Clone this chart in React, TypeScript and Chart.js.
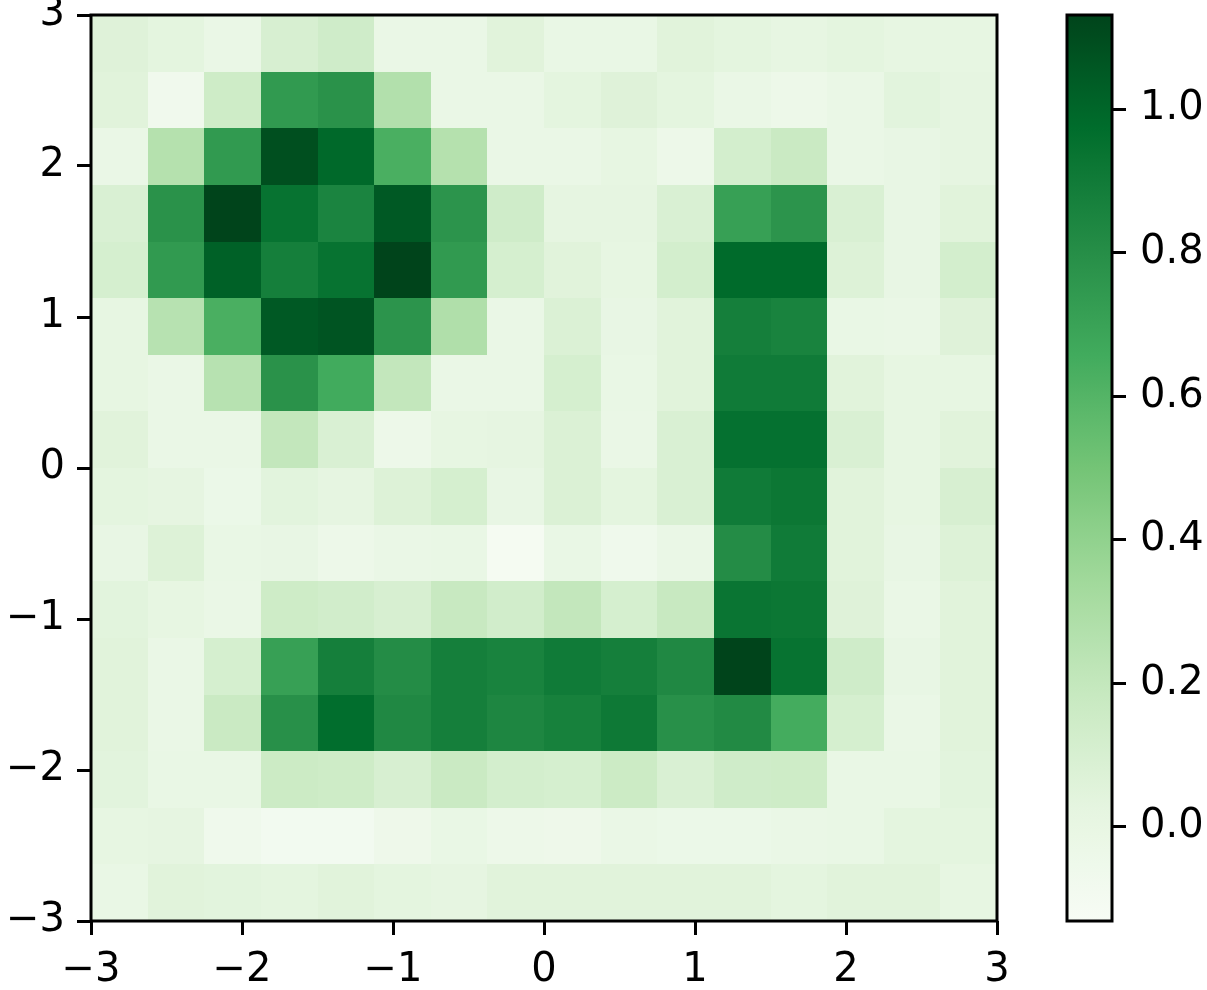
import React, { useEffect, useRef } from "react";
import { Chart, registerables } from "chart.js";

Chart.register(...registerables);

// Heatmap values, rows from top (y = 3) to bottom (y = -3), columns from x = -3 to x = 3
const row00 = [0.06, 0.03, -0.02, 0.10, 0.14, -0.02, -0.02, 0.05, -0.01, -0.01, 0.05, 0.03, 0.01, 0.03, 0.01, 0.01];
const row01 = [0.05, -0.07, 0.15, 0.74, 0.78, 0.27, -0.02, -0.02, 0.03, 0.06, 0.03, -0.02, -0.04, -0.02, 0.04, 0.02];
const row02 = [-0.02, 0.26, 0.74, 1.09, 0.99, 0.63, 0.26, -0.02, -0.02, 0.01, -0.04, 0.12, 0.17, -0.02, 0.0, 0.02];
const row03 = [0.09, 0.78, 1.13, 0.94, 0.85, 1.05, 0.77, 0.14, 0.02, 0.02, 0.09, 0.71, 0.77, 0.09, 0.0, 0.05];
const row04 = [0.11, 0.74, 1.02, 0.88, 0.94, 1.13, 0.74, 0.11, 0.05, 0.01, 0.12, 0.98, 0.98, 0.07, 0.0, 0.12];
const row05 = [0.01, 0.25, 0.63, 1.05, 1.07, 0.77, 0.28, -0.02, 0.08, 0.0, 0.05, 0.88, 0.86, -0.01, -0.02, 0.06];
const row06 = [0.01, -0.02, 0.25, 0.78, 0.66, 0.2, -0.02, -0.02, 0.11, -0.01, 0.05, 0.9, 0.9, 0.05, 0.01, 0.01];
const row07 = [0.05, -0.02, -0.02, 0.2, 0.09, -0.04, 0.01, 0.02, 0.08, -0.02, 0.09, 0.95, 0.95, 0.09, 0.01, 0.05];
const row08 = [0.03, 0.02, -0.03, 0.04, 0.02, 0.07, 0.11, 0.0, 0.08, 0.03, 0.09, 0.9, 0.92, 0.05, 0.01, 0.1];
const row09 = [0.0, 0.07, -0.01, 0.0, -0.04, -0.02, -0.01, -0.11, -0.01, -0.06, -0.02, 0.81, 0.9, 0.05, 0.0, 0.07];
const row10 = [0.04, 0.01, -0.02, 0.15, 0.13, 0.1, 0.18, 0.13, 0.2, 0.11, 0.18, 0.93, 0.92, 0.06, -0.02, 0.05];
const row11 = [0.05, -0.02, 0.11, 0.71, 0.88, 0.81, 0.88, 0.86, 0.9, 0.88, 0.83, 1.13, 0.94, 0.14, 0.0, 0.05];
const row12 = [0.05, -0.02, 0.17, 0.79, 0.97, 0.83, 0.88, 0.84, 0.87, 0.91, 0.79, 0.82, 0.65, 0.11, -0.02, 0.05];
const row13 = [0.04, -0.01, -0.01, 0.16, 0.15, 0.1, 0.17, 0.12, 0.11, 0.16, 0.09, 0.14, 0.15, -0.01, -0.01, 0.04];
const row14 = [0.01, 0.02, -0.06, -0.09, -0.09, -0.05, -0.01, -0.04, -0.05, -0.02, -0.03, -0.03, -0.02, -0.01, 0.03, 0.03];
const row15 = [-0.01, 0.05, 0.04, 0.03, 0.05, 0.03, 0.02, 0.05, 0.05, 0.05, 0.05, 0.05, 0.03, 0.05, 0.05, 0.01];

const gridRows = [row00, row01, row02, row03, row04, row05, row06, row07, row08, row09, row10, row11, row12, row13, row14, row15];

const axisMin = -3;
const axisMax = 3;
const axisTicks = [-3, -2, -1, 0, 1, 2, 3];
const colorMin = -0.131;
const colorMax = 1.131;
const colorTicks = [0.0, 0.2, 0.4, 0.6, 0.8, 1.0];

const greens = [
  [247, 252, 245],
  [229, 245, 224],
  [199, 233, 192],
  [161, 217, 155],
  [116, 196, 118],
  [65, 171, 93],
  [35, 139, 69],
  [0, 109, 44],
  [0, 68, 27],
];

function cmap(t: number): string {
  const tt = Math.max(0, Math.min(1, t)) * (greens.length - 1);
  const i = Math.min(Math.floor(tt), greens.length - 2);
  const f = tt - i;
  const a = greens[i];
  const b = greens[i + 1];
  const c = a.map((v, k) => Math.round(v + (b[k] - v) * f));
  return `rgb(${c[0]},${c[1]},${c[2]})`;
}

const FONT = { family: "'DejaVu Sans'", size: 40 };
const fmtMinus = (v: number) => (v < 0 ? "\u2212" + String(Math.abs(v)) : String(v));
const SPINE = 3;

export default function App() {
  const mainRef = useRef<HTMLCanvasElement | null>(null);
  const cbRef = useRef<HTMLCanvasElement | null>(null);

  useEffect(() => {
    const n = gridRows.length;
    const step = (axisMax - axisMin) / n;
    const points: any[] = [];
    gridRows.forEach((row, r) => {
      row.forEach((v, c) => {
        points.push({
          x: axisMin + (c + 0.5) * step,
          y: axisMax - (r + 0.5) * step,
          v,
        });
      });
    });

    const heatPlugin = {
      id: "heat",
      beforeDatasetsDraw(chart: any) {
        const { ctx, scales } = chart;
        const xs = scales.x;
        const ys = scales.y;
        ctx.save();
        for (const p of chart.data.datasets[0].data) {
          const l = Math.round(xs.getPixelForValue(p.x - step / 2));
          const rr = Math.round(xs.getPixelForValue(p.x + step / 2));
          const t = Math.round(ys.getPixelForValue(p.y + step / 2));
          const b = Math.round(ys.getPixelForValue(p.y - step / 2));
          ctx.fillStyle = cmap((p.v - colorMin) / (colorMax - colorMin));
          ctx.fillRect(l, t, rr - l, b - t);
        }
        ctx.restore();
      },
      afterDraw(chart: any) {
        const { ctx, chartArea } = chart;
        ctx.save();
        ctx.strokeStyle = "#000";
        ctx.lineWidth = SPINE;
        ctx.strokeRect(chartArea.left, chartArea.top, chartArea.right - chartArea.left, chartArea.bottom - chartArea.top);
        ctx.restore();
      },
    };

    const axisCommon = (pos: string) => ({
      type: "linear",
      position: pos,
      min: axisMin,
      max: axisMax,
      afterBuildTicks: (s: any) => {
        s.ticks = axisTicks.map((v) => ({ value: v }));
      },
      ticks: {
        callback: (v: any) => fmtMinus(Number(v)),
        color: "#000",
        font: FONT,
        padding: 12,
        maxRotation: 0,
        autoSkip: false,
      },
      grid: {
        drawOnChartArea: false,
        drawTicks: true,
        tickLength: 14,
        tickWidth: SPINE,
        color: "#000",
      },
      border: { display: false },
    });

    const xAxis: any = axisCommon("bottom");
    xAxis.afterFit = (s: any) => {
      s.height = 69;
      s.paddingLeft = 0;
      s.paddingRight = 0;
    };
    const yAxis: any = axisCommon("left");
    yAxis.afterFit = (s: any) => {
      s.width = 91;
      s.paddingTop = 0;
      s.paddingBottom = 0;
    };

    const main = new Chart(mainRef.current as HTMLCanvasElement, {
      type: "scatter",
      data: {
        datasets: [{ data: points, pointRadius: 0, pointHoverRadius: 0 }],
      },
      options: {
        animation: false,
        responsive: false,
        events: [],
        layout: { padding: { top: 15, right: 13, left: 0, bottom: 0 } },
        plugins: { legend: { display: false }, tooltip: { enabled: false } },
        scales: { x: xAxis, y: yAxis },
      },
      plugins: [heatPlugin],
    } as any);

    const cbPlugin = {
      id: "cbar",
      beforeDatasetsDraw(chart: any) {
        const { ctx, chartArea, scales } = chart;
        const ys = scales.y;
        const top = ys.getPixelForValue(colorMax);
        const bottom = ys.getPixelForValue(colorMin);
        const g = ctx.createLinearGradient(0, bottom, 0, top);
        for (let i = 0; i <= 32; i++) {
          g.addColorStop(i / 32, cmap(i / 32));
        }
        ctx.save();
        ctx.fillStyle = g;
        ctx.fillRect(chartArea.left, top, chartArea.right - chartArea.left, bottom - top);
        ctx.strokeStyle = "#000";
        ctx.lineWidth = SPINE;
        ctx.strokeRect(chartArea.left, top, chartArea.right - chartArea.left, bottom - top);
        ctx.restore();
      },
    };

    const cb = new Chart(cbRef.current as HTMLCanvasElement, {
      type: "scatter",
      data: { datasets: [{ data: [], pointRadius: 0 }] },
      options: {
        animation: false,
        responsive: false,
        events: [],
        layout: { padding: { top: 15, left: 27, bottom: 69, right: 0 } },
        plugins: { legend: { display: false }, tooltip: { enabled: false } },
        scales: {
          x: { type: "linear", display: false, min: 0, max: 1 },
          y: {
            type: "linear",
            position: "right",
            min: colorMin,
            max: colorMax,
            afterBuildTicks: (s: any) => {
              s.ticks = colorTicks.map((v) => ({ value: v }));
            },
            afterFit: (s: any) => {
              s.width = 95;
              s.paddingTop = 0;
              s.paddingBottom = 0;
            },
            ticks: {
              callback: (v: any) => Number(v).toFixed(1),
              color: "#000",
              font: FONT,
              padding: 14,
              autoSkip: false,
            },
            grid: {
              drawOnChartArea: false,
              drawTicks: true,
              tickLength: 14,
              tickWidth: SPINE,
              color: "#000",
            },
            border: { display: false },
          },
        },
      },
      plugins: [cbPlugin],
    } as any);

    return () => {
      main.destroy();
      cb.destroy();
    };
  }, []);

  return (
    <div style={{ position: "fixed", left: 0, top: 0, width: 1207, height: 990, background: "#fff" }}>
      <canvas ref={mainRef} width={1010} height={990} style={{ position: "absolute", left: 0, top: 0, width: 1010, height: 990 }} />
      <canvas ref={cbRef} width={167} height={990} style={{ position: "absolute", left: 1040, top: 0, width: 167, height: 990 }} />
    </div>
  );
}
